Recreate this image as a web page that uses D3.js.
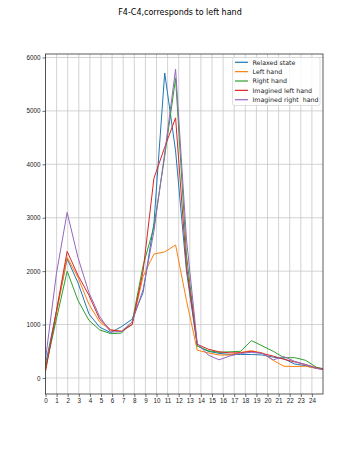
<!DOCTYPE html>
<html>
<head>
<meta charset="utf-8">
<script src="https://cdn.jsdelivr.net/npm/d3@7/dist/d3.min.js"></script>
<style>
  body { margin: 0; background: #fff; }
  svg { display: block; font-family: "DejaVu Sans", sans-serif; }
</style>
</head>
<body>
<svg id="chart" width="360" height="450"></svg>
<script>
// frequency bins (Hz)
var freqs = [0, 0.98, 1.95, 2.93, 3.91, 4.88, 5.86, 6.84, 7.81, 8.79, 9.77, 10.74, 11.72, 12.70,
  13.67, 14.65, 15.63, 16.60, 17.58, 18.55, 19.53, 20.51, 21.48, 22.46, 23.44, 24.41, 25.39]

var relaxed = [250, 1250, 2230, 1780, 1200, 950, 850, 960, 1100, 1600, 2900, 5710, 4250, 2000,
  600, 500, 460, 440, 440, 440, 430, 390, 360, 260, 230, 180, 150]
var leftHand = [150, 1200, 2260, 1880, 1380, 1050, 900, 880, 1000, 1900, 2320, 2360, 2490, 1450,
  520, 470, 430, 430, 480, 510, 470, 330, 220, 215, 220, 180, 150]
var rightHand = [180, 1100, 2000, 1450, 1080, 900, 830, 840, 1050, 2100, 2830, 4150, 5610, 2300,
  600, 510, 480, 490, 500, 700, 600, 500, 380, 380, 330, 200, 160]
var imLeft = [120, 1250, 2370, 1920, 1550, 1100, 900, 870, 1000, 2000, 3740, 4320, 4870, 2100,
  630, 540, 490, 470, 470, 500, 460, 410, 350, 300, 250, 190, 150]
var imRight = [350, 1950, 3100, 2250, 1600, 1150, 860, 870, 1050, 1650, 2750, 4210, 5780, 2600,
  650, 430, 340, 410, 460, 480, 460, 340, 400, 310, 250, 180, 150]

var seriesNames = ['Relaxed state', 'Left hand', 'Right hand', 'Imagined left hand', 'Imagined right  hand']
var colors = ['#1f77b4', '#ff7f0e', '#2ca02c', '#d62728', '#9467bd']
var xTicks = d3.range(0, 25)
var yTicks = [0, 1000, 2000, 3000, 4000, 5000, 6000]

var all = [relaxed, leftHand, rightHand, imLeft, imRight]

var pL = 45.5, pR = 323, pT = 54, pB = 394

var x = d3.scaleLinear().domain([0, 25]).range([pL, pR])
var y = d3.scaleLinear().domain([-300, 6065]).range([pB, pT])

var svg = d3.select('#chart')

svg.append('text')
  .attr('x', 180).attr('y', 15)
  .attr('text-anchor', 'middle')
  .style('font-size', '8px')
  .text('F4-C4,corresponds to left hand')

// grid
svg.append('g').selectAll('line')
  .data(xTicks).enter().append('line')
  .attr('x1', d => x(d)).attr('x2', d => x(d))
  .attr('y1', pT).attr('y2', pB)
  .attr('stroke', '#c8c8c8').attr('stroke-width', 0.8)
svg.append('g').selectAll('line')
  .data(yTicks).enter().append('line')
  .attr('x1', pL).attr('x2', pR)
  .attr('y1', d => y(d)).attr('y2', d => y(d))
  .attr('stroke', '#c8c8c8').attr('stroke-width', 0.8)

svg.append('clipPath').attr('id', 'clip')
  .append('rect').attr('x', pL).attr('y', pT)
  .attr('width', pR - pL).attr('height', pB - pT)

var line = d3.line()
  .x((d, i) => x(freqs[i]))
  .y(d => y(d))

svg.append('g').attr('clip-path', 'url(#clip)')
  .selectAll('path')
  .data(all).enter().append('path')
  .attr('d', d => line(d))
  .attr('fill', 'none')
  .attr('stroke', (d, i) => colors[i])
  .attr('stroke-width', 1)

// axes
var xAxis = svg.append('g')
  .attr('transform', 'translate(0,' + pB + ')')
  .call(d3.axisBottom(x).tickValues(xTicks).tickSize(3).tickPadding(2))
var yAxis = svg.append('g')
  .attr('transform', 'translate(' + pL + ',0)')
  .call(d3.axisLeft(y).tickValues(yTicks).tickFormat(d3.format('d')).tickSize(3).tickPadding(2))

;[xAxis, yAxis].forEach(a => {
  a.select('.domain').remove()
  a.selectAll('text').style('font-size', '6.3px').attr('fill', '#222')
  a.selectAll('line').attr('stroke', '#333').attr('stroke-width', 0.7)
})

svg.append('rect')
  .attr('x', pL).attr('y', pT)
  .attr('width', pR - pL).attr('height', pB - pT)
  .attr('fill', 'none').attr('stroke', '#333').attr('stroke-width', 0.8)

// legend
var lg = svg.append('g')
lg.append('rect')
  .attr('x', 232.5).attr('y', 57.5).attr('width', 87.5).attr('height', 48)
  .attr('rx', 2)
  .attr('fill', 'rgba(255,255,255,0.8)').attr('stroke', '#d8d8d8').attr('stroke-width', 0.8)
lg.selectAll('g.item')
  .data(seriesNames).enter().append('g')
  .attr('class', 'item')
  .each(function (d, i) {
    var g = d3.select(this)
    var yy = 62.3 + i * 9.35
    g.append('line')
      .attr('x1', 235).attr('x2', 248)
      .attr('y1', yy).attr('y2', yy)
      .attr('stroke', colors[i]).attr('stroke-width', 1.2)
    g.append('text')
      .attr('x', 252.5).attr('y', yy + 2.2)
      .style('font-size', '6.3px')
      .style('white-space', 'pre')
      .attr('fill', '#222')
      .text(d)
  })
</script>
</body>
</html>
